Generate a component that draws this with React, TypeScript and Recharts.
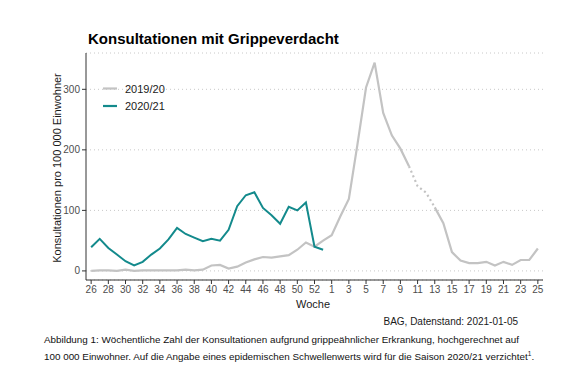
import React from 'react';
import { LineChart, Line, XAxis, YAxis, CartesianGrid } from 'recharts';

const weeks = [26, 27, 28, 29, 30, 31, 32, 33, 34, 35, 36, 37, 38, 39, 40, 41, 42, 43, 44, 45, 46, 47, 48, 49, 50, 51, 52, 53, 1, 2, 3, 4, 5, 6, 7, 8, 9, 10, 11, 12, 13, 14, 15, 16, 17, 18, 19, 20, 21, 22, 23, 24, 25];

const season1920 = [0, 1, 1, 0, 2, 0, 1, 1, 1, 1, 1, 2, 1, 2, 9, 10, 4, 7, 14, 19, 23, 22, 24, 26, 35, 47, 40, 50, 59, 90, 119, 209, 303, 344, 261, 224, 202, 173, null, null, 105, 79, 31, 17, 13, 13, 15, 9, 15, 10, 18, 18, 37];

const season1920Gap = [null, null, null, null, null, null, null, null, null, null, null, null, null, null, null, null, null, null, null, null, null, null, null, null, null, null, null, null, null, null, null, null, null, null, null, null, null, 173, 140, 129, 105, null, null, null, null, null, null, null, null, null, null, null, null];

const season2021 = [39, 53, 38, 27, 16, 9, 15, 27, 37, 52, 71, 61, 55, 49, 53, 50, 68, 107, 125, 130, 104, 92, 78, 106, 100, 113, 40, 35];

const yTicks = [0, 100, 200, 300];
const xTicks = [0, 2, 4, 6, 8, 10, 12, 14, 16, 18, 20, 22, 24, 26, 28, 30, 32, 34, 36, 38, 40, 42, 44, 46, 48, 50, 52];

const data = weeks.map((w, i) => ({
  idx: i,
  week: w,
  s1920: season1920[i],
  s1920gap: season1920Gap[i],
  s2021: i < season2021.length ? season2021[i] : null,
}));

const GRAY = '#c3c3c3';
const TEAL = '#138a8c';
const FONT = '"Liberation Sans", Arial, sans-serif';

export default function App() {
  return (
    <div style={{ position: 'relative', width: 572, height: 366, fontFamily: FONT }}>
      <LineChart width={572} height={366} data={data} margin={{ top: 45, right: 37, bottom: 64, left: 48 }}>
        <CartesianGrid horizontal vertical={false} stroke="#c8c8c8" strokeDasharray="1 3" />
        <XAxis
          dataKey="idx"
          type="number"
          domain={[-0.6, 52.6]}
          ticks={xTicks}
          allowDataOverflow
          height={30}
          tickSize={4}
          tickFormatter={(v: number) => String(weeks[v])}
          axisLine={{ stroke: '#333', strokeWidth: 1 }}
          tickLine={{ stroke: '#333' }}
          tick={{ fontSize: 10, fill: '#4d4d4d', fontFamily: FONT }}
          interval={0}
        />
        <YAxis
          type="number"
          domain={[-15, 360]}
          ticks={yTicks}
          allowDataOverflow
          width={30}
          tickSize={4}
          axisLine={{ stroke: '#333', strokeWidth: 1 }}
          tickLine={{ stroke: '#333' }}
          tick={{ fontSize: 10, fill: '#4d4d4d', fontFamily: FONT }}
        />
        <Line type="linear" dataKey="s1920" stroke={GRAY} strokeWidth={2.2} dot={false} connectNulls={false} isAnimationActive={false} />
        <Line type="linear" dataKey="s1920gap" stroke={GRAY} strokeWidth={2.2} strokeDasharray="2 3" dot={false} connectNulls={false} isAnimationActive={false} />
        <Line type="linear" dataKey="s2021" stroke={TEAL} strokeWidth={2} dot={false} connectNulls={false} isAnimationActive={false} />
      </LineChart>
      <svg width={572} height={366} style={{ position: 'absolute', left: 0, top: 0, pointerEvents: 'none' }}>
        <text x={80} y={36} fontSize={15} fontWeight="bold" fill="#000" fontFamily={FONT}>Konsultationen mit Grippeverdacht</text>
        <line x1={95} x2={109} y1={80.5} y2={80.5} stroke={GRAY} strokeWidth={2.2} />
        <text x={117} y={84.5} fontSize={11} fill="#1a1a1a" fontFamily={FONT}>2019/20</text>
        <line x1={95} x2={109} y1={98} y2={98} stroke={TEAL} strokeWidth={2.2} />
        <text x={117} y={102} fontSize={11} fill="#1a1a1a" fontFamily={FONT}>2020/21</text>
        <text transform="translate(52.5,160) rotate(-90)" textAnchor="middle" fontSize={11} fill="#1a1a1a" fontFamily={FONT}>Konsultationen pro 100 000 Einwohner</text>
        <text x={305} y={300} textAnchor="middle" fontSize={11} fill="#1a1a1a" fontFamily={FONT}>Woche</text>
        <text x={510} y={317} textAnchor="end" fontSize={10} fill="#1a1a1a" fontFamily={FONT}>BAG, Datenstand: 2021-01-05</text>
        <text x={36} y={334.5} fontSize={9.85} fill="#111" fontFamily={FONT}>Abbildung 1: Wöchentliche Zahl der Konsultationen aufgrund grippeähnlicher Erkrankung, hochgerechnet auf</text>
        <text x={36} y={352} fontSize={9.85} fill="#111" fontFamily={FONT}>100 000 Einwohner. Auf die Angabe eines epidemischen Schwellenwerts wird für die Saison 2020/21 verzichtet<tspan fontSize={6.5} dy={-4}>1</tspan><tspan dy={4}>.</tspan></text>
      </svg>
    </div>
  );
}
